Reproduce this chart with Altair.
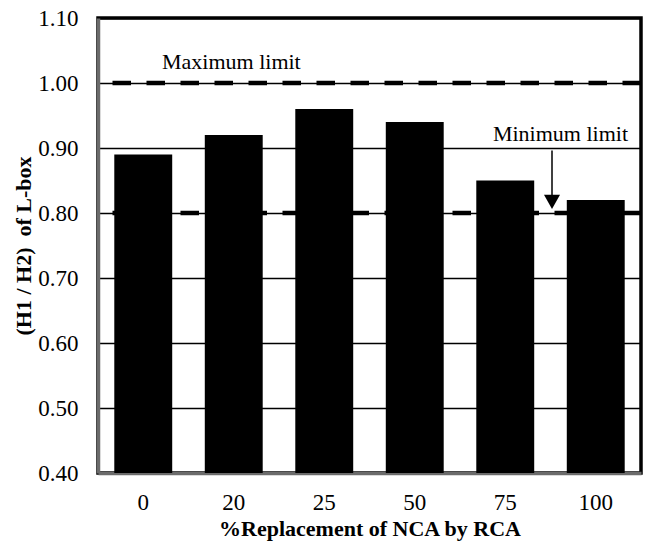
import altair as alt
import pandas as pd

# L-box blocking ratio for each RCA replacement level
replacement = ["0", "20", "25", "50", "75", "100"]
ratio = [0.89, 0.92, 0.96, 0.94, 0.85, 0.82]

# Acceptance limits for the L-box ratio
max_limit = 1.00
min_limit = 0.80

y_ticks = [0.40, 0.50, 0.60, 0.70, 0.80, 0.90, 1.00, 1.10]

FONT = "Liberation Serif"

bars_df = pd.DataFrame({"replacement": replacement, "ratio": ratio})

y_scale = alt.Scale(domain=[0.40, 1.10], zero=False, nice=False)
x_scale = alt.Scale(domain=replacement, paddingInner=0.36, paddingOuter=0.18)

x_enc = alt.X(
    "replacement:N",
    scale=x_scale,
    sort=replacement,
    axis=alt.Axis(
        title="%Replacement of NCA by RCA",
        labelAngle=0,
        ticks=False,
        labelPadding=18,
        titlePadding=4,
        labelFontSize=23,
        titleFontSize=22,
        titleFontWeight="bold",
        grid=False,
    ),
)

y_enc = alt.Y(
    "ratio:Q",
    scale=y_scale,
    axis=alt.Axis(
        title="(H1 / H2)\u00a0 of L-box",
        values=y_ticks,
        format=".2f",
        ticks=False,
        labelPadding=20,
        labelFontSize=23,
        titleFontSize=22,
        titleFontWeight="bold",
        titleAngle=270,
        titleX=-75,
        titleBaseline="middle",
        grid=True,
        gridColor="black",
        gridWidth=1.5,
        gridOpacity=1,
    ),
)

bars = alt.Chart(bars_df).mark_bar(color="black").encode(
    x=x_enc,
    y=y_enc,
    y2=alt.datum(0.40),
)

dash_style = dict(color="black", strokeWidth=4.5, strokeDash=[18.5, 15.5], strokeCap="butt")

min_rule = alt.Chart(pd.DataFrame({"v": [min_limit]})).mark_rule(**dash_style).encode(
    y=alt.Y("v:Q", scale=y_scale)
)
max_rule = alt.Chart(pd.DataFrame({"v": [max_limit]})).mark_rule(**dash_style).encode(
    y=alt.Y("v:Q", scale=y_scale)
)

max_label = alt.Chart(pd.DataFrame({"t": ["Maximum limit"], "v": [1.032]})).mark_text(
    fontSize=22, color="black", align="left", baseline="middle"
).encode(text="t:N", x=alt.value(64), y=alt.Y("v:Q", scale=y_scale))

min_label = alt.Chart(pd.DataFrame({"t": ["Minimum limit"], "v": [0.922]})).mark_text(
    fontSize=22, color="black", align="right", baseline="middle"
).encode(text="t:N", x=alt.value(530), y=alt.Y("v:Q", scale=y_scale))

arrow_shaft = alt.Chart(pd.DataFrame({"a": [0.896], "b": [0.82]})).mark_rule(
    color="black", strokeWidth=1.5
).encode(
    x=alt.value(454),
    y=alt.Y("a:Q", scale=y_scale),
    y2="b:Q",
)

arrow_head = alt.Chart(pd.DataFrame({"v": [0.806]})).mark_point(
    shape="M-1,-1.8L1,-1.8L0,0Z", filled=True, color="black", size=256, opacity=1
).encode(x=alt.value(454), y=alt.Y("v:Q", scale=y_scale))

chart = (
    alt.layer(min_rule, bars, max_rule, max_label, min_label, arrow_shaft, arrow_head)
    .properties(
        width=543,
        height=455,
        autosize=alt.AutoSizeParams(type="none"),
        padding={"left": 98, "top": 18, "right": 6, "bottom": 69},
        background="white",
    )
    .configure(font=FONT)
    .configure_axis(
        labelFont=FONT,
        titleFont=FONT,
        labelColor="black",
        titleColor="black",
        domainColor="#6b6b6b",
        domainWidth=3.5,
    )
    .configure_text(font=FONT)
    .configure_view(stroke="black", strokeWidth=3.5)
)

chart.save("out.html", embed_options={"renderer": "svg", "actions": False})
